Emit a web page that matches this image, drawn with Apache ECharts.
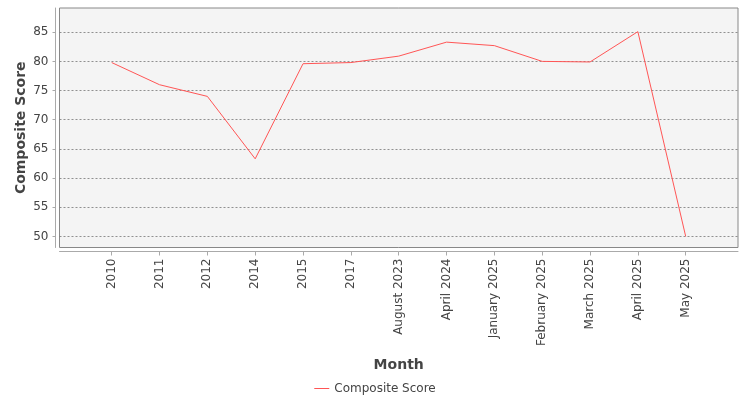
<!DOCTYPE html>
<html>
<head>
<meta charset="utf-8">
<script src="https://cdn.jsdelivr.net/npm/echarts@6/dist/echarts.min.js"></script>
<style>
  html, body { margin: 0; padding: 0; background: #fff; }
  #chart { width: 750px; height: 400px; }
</style>
</head>
<body>
<div id="chart"></div>
<script>
// data
let months = ['2010', '2011', '2012', '2014', '2015', '2017', 'August 2023', 'April 2024',
    'January 2025', 'February 2025', 'March 2025', 'April 2025', 'May 2025'];
let scores = [79.8, 76.0, 74.0, 63.3, 79.6, 79.8, 80.9, 83.3, 82.7, 80.0, 79.9, 85.1, 50.0];
let yTicks = [50, 55, 60, 65, 70, 75, 80, 85];
let yMin = 48.1;
let yMax = 89.15;

let font = 'DejaVu Sans';

echarts.init(document.getElementById('chart')).setOption({
    animation: false,
    textStyle: { fontFamily: font },
    legend: {
        data: [{ name: 'Composite Score', icon: 'rect' }],
        left: 'center',
        top: 377.5,
        itemWidth: 15,
        itemHeight: 1,
        textStyle: { fontSize: 12, color: '#444', fontFamily: font }
    },
    grid: [
        {   // plot box with background, border and y axis
            left: 59.5, right: 12, top: 8, bottom: 152.5,
            show: true,
            backgroundColor: '#f4f4f4',
            borderColor: '#888',
            borderWidth: 1
        },
        {   // inner area where categories sit
            left: 111.7, right: 64.3, top: 8, bottom: 152.5
        }
    ],
    xAxis: [
        {
            gridIndex: 0,
            type: 'category',
            data: months,
            boundaryGap: false,
            offset: 4,
            axisLine: { show: true, lineStyle: { color: '#aaa', width: 1 } },
            axisTick: { show: false },
            axisLabel: { show: false },
            splitLine: { show: false }
        },
        {
            gridIndex: 1,
            type: 'category',
            data: months,
            boundaryGap: false,
            offset: 4,
            name: 'Month',
            nameLocation: 'middle',
            nameGap: 107,
            nameTextStyle: { fontSize: 14, fontWeight: 'bold', color: '#444', fontFamily: font },
            axisLine: { show: false },
            axisTick: { show: true, alignWithLabel: true, length: 4, lineStyle: { color: '#aaa' } },
            axisLabel: { rotate: 90, margin: 7, fontSize: 12, color: '#444', fontFamily: font, interval: 0 },
            splitLine: { show: false }
        }
    ],
    yAxis: [
        {
            gridIndex: 0,
            type: 'value',
            min: yMin,
            max: yMax,
            splitNumber: 8,
            offset: 4,
            name: 'Composite Score',
            nameLocation: 'middle',
            nameGap: 27,
            nameMoveOverlap: false,
            nameTextStyle: { fontSize: 14, fontWeight: 'bold', color: '#444', fontFamily: font },
            axisLine: { show: true, lineStyle: { color: '#aaa', width: 1 } },
            axisTick: { show: true, length: 3, customValues: yTicks, lineStyle: { color: '#aaa' } },
            axisLabel: {
                fontSize: 12, color: '#444', fontFamily: font, margin: 7,
                customValues: yTicks,
                formatter: function (v) {
                    return yTicks.indexOf(v) >= 0 ? String(v) : '';
                }
            },
            splitLine: {
                show: true,
                lineStyle: { color: '#777', type: [2, 2], width: 0.8 }
            }
        },
        {
            gridIndex: 1,
            type: 'value',
            min: yMin,
            max: yMax,
            show: false,
            splitLine: { show: false }
        }
    ],
    series: [
        {
            name: 'Composite Score',
            type: 'line',
            xAxisIndex: 1,
            yAxisIndex: 1,
            symbol: 'none',
            color: '#ff5555',
            lineStyle: { color: '#ff5555', width: 1 },
            data: scores
        }
    ]
});
</script>
</body>
</html>
